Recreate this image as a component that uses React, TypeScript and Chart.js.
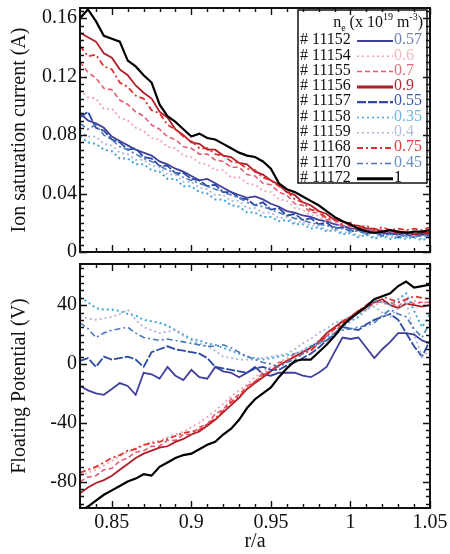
import React, { useEffect, useRef } from "react";
import { Chart, registerables } from "chart.js";

Chart.register(...registerables);

// ---------- data ----------
const R_OVER_A = [
  0.83, 0.835, 0.84, 0.845, 0.85, 0.855, 0.86, 0.865, 0.87, 0.875,
  0.88, 0.885, 0.89, 0.895, 0.9, 0.905, 0.91, 0.915, 0.92, 0.925,
  0.93, 0.935, 0.94, 0.945, 0.95, 0.955, 0.96, 0.965, 0.97, 0.975,
  0.98, 0.985, 0.99, 0.995, 1, 1.005, 1.01, 1.015, 1.02, 1.025,
  1.03, 1.035, 1.04, 1.045, 1.05,
];

const SHOT_LABELS = ["# 11152", "# 11154", "# 11155", "# 11156", "# 11157", "# 11158", "# 11159", "# 11168", "# 11170", "# 11172"];
const DENSITY_LABELS = ["0.57", "0.6", "0.7", "0.9", "0.55", "0.35", "0.4", "0.75", "0.45", "1"];

const X_TICKS = [0.85, 0.9, 0.95, 1, 1.05];
const X_TICK_LABELS = ["0.85", "0.9", "0.95", "1", "1.05"];
const ISAT_TICKS = [0, 0.04, 0.08, 0.12, 0.16];
const ISAT_TICK_LABELS = ["0", "0.04", "0.08", "0.12", "0.16"];
const VF_TICKS = [-80, -40, 0, 40];
const VF_TICK_LABELS = ["-80", "-40", "0", "40"];

// Ion saturation current (A)
const ISAT_11152 = [0.095, 0.090, 0.088, 0.085, 0.079, 0.076, 0.073, 0.070, 0.068, 0.066, 0.062, 0.060, 0.057, 0.055, 0.052, 0.049, 0.050, 0.047, 0.044, 0.041, 0.039, 0.037, 0.038, 0.036, 0.033, 0.031, 0.028, 0.027, 0.025, 0.024, 0.022, 0.021, 0.019, 0.018, 0.016, 0.016, 0.015, 0.014, 0.013, 0.013, 0.012, 0.013, 0.012, 0.012, 0.012];
const ISAT_11154 = [0.111, 0.106, 0.105, 0.098, 0.098, 0.092, 0.090, 0.085, 0.083, 0.078, 0.077, 0.072, 0.071, 0.066, 0.065, 0.061, 0.060, 0.056, 0.056, 0.051, 0.051, 0.047, 0.046, 0.042, 0.041, 0.036, 0.035, 0.030, 0.029, 0.025, 0.025, 0.021, 0.021, 0.017, 0.018, 0.015, 0.016, 0.014, 0.015, 0.013, 0.015, 0.012, 0.014, 0.012, 0.013];
const ISAT_11155 = [0.130, 0.123, 0.119, 0.112, 0.111, 0.104, 0.101, 0.096, 0.093, 0.087, 0.084, 0.079, 0.077, 0.072, 0.071, 0.067, 0.067, 0.063, 0.062, 0.058, 0.058, 0.053, 0.052, 0.047, 0.046, 0.041, 0.039, 0.033, 0.032, 0.027, 0.027, 0.022, 0.022, 0.018, 0.018, 0.015, 0.016, 0.014, 0.015, 0.013, 0.014, 0.013, 0.014, 0.012, 0.013];
const ISAT_11156 = [0.150, 0.147, 0.144, 0.136, 0.133, 0.125, 0.121, 0.114, 0.109, 0.105, 0.096, 0.092, 0.084, 0.080, 0.075, 0.074, 0.070, 0.070, 0.066, 0.065, 0.061, 0.060, 0.055, 0.053, 0.049, 0.046, 0.041, 0.039, 0.034, 0.032, 0.028, 0.026, 0.022, 0.021, 0.018, 0.018, 0.016, 0.016, 0.014, 0.015, 0.013, 0.014, 0.012, 0.013, 0.013];
const ISAT_11157 = [0.092, 0.096, 0.085, 0.083, 0.077, 0.075, 0.070, 0.071, 0.065, 0.064, 0.059, 0.059, 0.054, 0.054, 0.050, 0.049, 0.045, 0.046, 0.041, 0.041, 0.037, 0.036, 0.032, 0.034, 0.029, 0.030, 0.025, 0.026, 0.022, 0.023, 0.019, 0.020, 0.016, 0.017, 0.014, 0.015, 0.012, 0.014, 0.011, 0.013, 0.010, 0.012, 0.010, 0.012, 0.011];
const ISAT_11158 = [0.079, 0.075, 0.074, 0.070, 0.069, 0.064, 0.064, 0.060, 0.060, 0.056, 0.055, 0.050, 0.050, 0.045, 0.045, 0.041, 0.040, 0.036, 0.036, 0.032, 0.031, 0.027, 0.027, 0.024, 0.024, 0.021, 0.022, 0.019, 0.019, 0.016, 0.017, 0.014, 0.015, 0.012, 0.013, 0.010, 0.012, 0.009, 0.011, 0.009, 0.010, 0.009, 0.010, 0.008, 0.010];
const ISAT_11159 = [0.083, 0.079, 0.079, 0.074, 0.073, 0.068, 0.067, 0.063, 0.063, 0.059, 0.058, 0.053, 0.053, 0.048, 0.048, 0.044, 0.043, 0.039, 0.039, 0.035, 0.035, 0.030, 0.030, 0.027, 0.027, 0.023, 0.024, 0.020, 0.021, 0.018, 0.018, 0.015, 0.016, 0.013, 0.014, 0.011, 0.013, 0.010, 0.012, 0.010, 0.011, 0.010, 0.011, 0.009, 0.011];
const ISAT_11168 = [0.141, 0.134, 0.135, 0.127, 0.125, 0.116, 0.113, 0.107, 0.105, 0.097, 0.095, 0.087, 0.084, 0.079, 0.076, 0.071, 0.071, 0.067, 0.066, 0.062, 0.061, 0.057, 0.056, 0.051, 0.049, 0.045, 0.042, 0.036, 0.034, 0.029, 0.028, 0.023, 0.023, 0.019, 0.020, 0.017, 0.018, 0.015, 0.017, 0.015, 0.016, 0.015, 0.016, 0.015, 0.017];
const ISAT_11170 = [0.088, 0.084, 0.087, 0.080, 0.077, 0.072, 0.070, 0.067, 0.064, 0.062, 0.059, 0.056, 0.054, 0.051, 0.049, 0.047, 0.045, 0.043, 0.041, 0.039, 0.037, 0.034, 0.032, 0.031, 0.029, 0.027, 0.025, 0.023, 0.022, 0.020, 0.019, 0.018, 0.017, 0.016, 0.015, 0.014, 0.013, 0.013, 0.012, 0.012, 0.012, 0.011, 0.011, 0.011, 0.011];
const ISAT_11172 = [0.160, 0.166, 0.158, 0.148, 0.146, 0.144, 0.131, 0.127, 0.121, 0.116, 0.101, 0.093, 0.089, 0.084, 0.079, 0.081, 0.078, 0.077, 0.074, 0.071, 0.068, 0.066, 0.065, 0.062, 0.057, 0.047, 0.043, 0.041, 0.038, 0.035, 0.032, 0.028, 0.024, 0.021, 0.019, 0.016, 0.014, 0.013, 0.014, 0.015, 0.014, 0.013, 0.014, 0.014, 0.015];

// Floating potential (V)
const VF_11152 = [-15, -18, -20, -21, -17, -13, -15, -21, -6, -7, -10, -2, -8, -11, -4, -9, -10, -2, -5, -6, -9, -6, -2, -7, -8, -6, -6, -6, -8, -9, -6, -2, 8, 18, 17, 18, 11, 4, 10, 15, 21, 21, 20, 16, 14];
const VF_11154 = [-76, -74, -72, -69, -66, -63, -60, -57, -55, -53, -52, -50, -48, -46, -43, -40, -36, -32, -27, -22, -18, -14, -9, -5, -2, 1, 4, 7, 9, 12, 16, 20, 24, 28, 32, 35, 37, 40, 42, 40, 39, 41, 43, 42, 41];
const VF_11155 = [-80, -77, -76, -72, -71, -66, -64, -60, -59, -56, -56, -52, -52, -48, -48, -43, -41, -34, -31, -24, -21, -15, -12, -6, -5, 1, 2, 7, 7, 11, 13, 19, 21, 28, 30, 36, 37, 42, 42, 42, 39, 44, 41, 42, 42];
const VF_11156 = [-88, -84, -81, -79, -76, -72, -68, -64, -61, -59, -57, -56, -53, -51, -48, -46, -42, -38, -33, -28, -23, -17, -13, -9, -5, -1, 2, 5, 8, 11, 15, 21, 25, 29, 32, 36, 39, 42, 44, 40, 38, 41, 40, 39, 40];
const VF_11157 = [2, 4, -2, 5, 3, 4, 5, 3, -2, 8, 10, 12, 10, 9, 8, 7, 4, -2, -3, -4, -5, -6, -3, -2, -4, -4, -1, 1, 4, 7, 11, 16, 20, 25, 24, 23, 27, 30, 32, 34, 30, 21, 12, 5, 16];
const VF_11158 = [45, 42, 38, 37, 37, 36, 34, 33, 30, 29, 28, 26, 23, 20, 17, 16, 14, 13, 11, 9, 7, 5, 4, 3, 4, 5, 6, 7, 9, 12, 14, 18, 21, 25, 29, 32, 37, 43, 42, 40, 44, 48, 36, 25, 34];
const VF_11159 = [32, 31, 30, 31, 32, 34, 37, 30, 25, 23, 21, 22, 23, 19, 16, 14, 12, 9, 5, 4, 3, 3, 3, 4, 5, 6, 7, 10, 14, 17, 21, 24, 28, 30, 32, 34, 37, 39, 35, 32, 38, 43, 20, 5, 9];
const VF_11168 = [-74, -72, -70, -67, -64, -62, -59, -58, -55, -54, -53, -51, -49, -47, -46, -45, -41, -37, -32, -26, -22, -17, -12, -8, -5, -1, 2, 5, 7, 9, 14, 19, 24, 28, 32, 36, 40, 44, 46, 44, 42, 44, 46, 45, 44];
const VF_11170 = [28, 24, 18, 21, 23, 24, 25, 21, 18, 17, 16, 17, 16, 15, 14, 13, 12, 12, 13, 11, 8, 5, 3, 1, 0, -2, 1, 3, 7, 12, 14, 16, 20, 23, 24, 25, 26, 28, 33, 37, 34, 32, 24, 18, 28];
const VF_11172 = [-100, -97, -93, -89, -86, -83, -80, -78, -75, -76, -70, -67, -64, -62, -61, -58, -55, -53, -48, -44, -38, -30, -24, -20, -16, -9, -3, 2, 3, 3, 8, 13, 19, 26, 31, 35, 39, 44, 46, 48, 53, 56, 52, 53, 54];

const ISAT_SERIES = [ISAT_11152, ISAT_11154, ISAT_11155, ISAT_11156, ISAT_11157, ISAT_11158, ISAT_11159, ISAT_11168, ISAT_11170, ISAT_11172];
const VF_SERIES = [VF_11152, VF_11154, VF_11155, VF_11156, VF_11157, VF_11158, VF_11159, VF_11168, VF_11170, VF_11172];

// ---------- styles ----------
const SERIES_STYLES = [
  { color: "#3f3f9e", text: "#7080b0", dash: [] as number[], width: 1.8, legendWidth: 1.8 },
  { color: "#f2a4b2", text: "#f2b8c0", dash: [2, 3], width: 1.8, legendWidth: 1.5 },
  { color: "#e25c74", text: "#e07080", dash: [5, 3], width: 1.6, legendWidth: 1.5 },
  { color: "#b01e28", text: "#b03030", dash: [] as number[], width: 1.8, legendWidth: 3 },
  { color: "#2a4aa6", text: "#3a5aa8", dash: [9, 2], width: 1.8, legendWidth: 2.2 },
  { color: "#45a6dc", text: "#6ab8dc", dash: [2, 3], width: 2, legendWidth: 1.5 },
  { color: "#a9b6d6", text: "#b4c0d8", dash: [2, 3], width: 1.8, legendWidth: 1.5 },
  { color: "#e2302e", text: "#d84040", dash: [6, 3, 2, 3], width: 1.8, legendWidth: 2 },
  { color: "#4a78b8", text: "#6890c4", dash: [6, 3, 2, 3], width: 1.6, legendWidth: 1.5 },
  { color: "#000000", text: "#000000", dash: [] as number[], width: 2.2, legendWidth: 3 },
];

const FONT_FAMILY = "'Liberation Serif', 'DejaVu Serif', serif";

function makeDatasets(series: number[][]) {
  return SERIES_STYLES.map((st, i) => ({
    label: SHOT_LABELS[i],
    data: R_OVER_A.map((x, j) => ({ x, y: series[i][j] })),
    borderColor: st.color,
    backgroundColor: st.color,
    borderWidth: st.width,
    borderDash: st.dash,
    pointRadius: 0,
    tension: 0,
    fill: false,
    order: i === 9 ? 0 : 10 - i,
  }));
}

// ---------- plugins ----------
function makeFramePlugin(xMinor: number, xMajor: number, yMinor: number, yMajor: number) {
  return {
    id: "frameTicks",
    afterDraw(chart: any) {
      const { ctx, chartArea: a, scales } = chart;
      ctx.save();
      ctx.strokeStyle = "#111";
      ctx.lineWidth = 1.4;
      ctx.setLineDash([]);
      const drawSet = (scale: any, minor: number, major: number, horizontal: boolean) => {
        const start = Math.ceil(scale.min / minor - 1e-6);
        const end = Math.floor(scale.max / minor + 1e-6);
        for (let k = start; k <= end; k++) {
          const v = k * minor;
          const r = v / major;
          const isMajor = Math.abs(r - Math.round(r)) < 1e-6;
          const len = isMajor ? 7 : 4;
          const p = Math.round(scale.getPixelForValue(v)) + 0.5;
          ctx.beginPath();
          if (horizontal) {
            ctx.moveTo(p, a.bottom);
            ctx.lineTo(p, a.bottom - len);
            ctx.moveTo(p, a.top);
            ctx.lineTo(p, a.top + len);
          } else {
            ctx.moveTo(a.left, p);
            ctx.lineTo(a.left + len, p);
            ctx.moveTo(a.right, p);
            ctx.lineTo(a.right - len, p);
          }
          ctx.stroke();
        }
      };
      drawSet(scales.x, xMinor, xMajor, true);
      drawSet(scales.y, yMinor, yMajor, false);
      ctx.lineWidth = 2;
      ctx.strokeRect(a.left, a.top, a.right - a.left, a.bottom - a.top);
      ctx.restore();
    },
  };
}

const shotLegendPlugin = {
  id: "shotLegend",
  afterDraw(chart: any) {
    const { ctx, chartArea: a } = chart;
    const boxR = a.right - 3;
    const boxL = boxR - 129;
    const boxT = a.top + 2;
    const boxB = boxT + 173;
    ctx.save();
    ctx.fillStyle = "#ffffff";
    ctx.fillRect(boxL, boxT, boxR - boxL, boxB - boxT);
    ctx.strokeStyle = "#111";
    ctx.lineWidth = 1.5;
    ctx.strokeRect(boxL, boxT, boxR - boxL, boxB - boxT);

    const big = `16px ${FONT_FAMILY}`;
    const small = `10px ${FONT_FAMILY}`;
    const parts: { t: string; f: string; dy: number }[] = [
      { t: "n", f: big, dy: 0 },
      { t: "e", f: small, dy: 5 },
      { t: " (x 10", f: big, dy: 0 },
      { t: "19", f: small, dy: -6 },
      { t: " m", f: big, dy: 0 },
      { t: "-3", f: small, dy: -6 },
      { t: ")", f: big, dy: 0 },
    ];
    let total = 0;
    for (const p of parts) {
      ctx.font = p.f;
      total += ctx.measureText(p.t).width;
    }
    let tx = boxR - 4 - total;
    const ty = boxT + 13;
    ctx.fillStyle = "#111";
    ctx.textBaseline = "middle";
    ctx.textAlign = "left";
    for (const p of parts) {
      ctx.font = p.f;
      ctx.fillText(p.t, tx, ty + p.dy);
      tx += ctx.measureText(p.t).width;
    }

    const rowY0 = boxT + 30;
    const rowStep = 15.3;
    SHOT_LABELS.forEach((lab, i) => {
      const st = SERIES_STYLES[i];
      const y = rowY0 + i * rowStep;
      ctx.font = big;
      ctx.fillStyle = "#111";
      ctx.fillText(lab, boxL + 2, y);
      ctx.beginPath();
      ctx.strokeStyle = st.color;
      ctx.lineWidth = st.legendWidth;
      ctx.setLineDash(st.dash);
      ctx.moveTo(boxL + 59, y + 1);
      ctx.lineTo(boxL + 95, y + 1);
      ctx.stroke();
      ctx.setLineDash([]);
      ctx.fillStyle = st.text;
      ctx.fillText(DENSITY_LABELS[i], boxL + 96, y);
    });
    ctx.restore();
  },
};

function fixYWidth(scale: any) {
  scale.width = 80;
  scale.paddingTop = 0;
  scale.paddingBottom = 0;
}

function fixXHeight(scale: any) {
  scale.height = 46;
  scale.paddingLeft = 0;
  scale.paddingRight = 0;
}

const tickFont = { family: FONT_FAMILY, size: 20 };

export default function App() {
  const topRef = useRef<HTMLCanvasElement | null>(null);
  const botRef = useRef<HTMLCanvasElement | null>(null);

  useEffect(() => {
    if (!topRef.current || !botRef.current) return;

    const top = new Chart(topRef.current, {
      type: "line",
      data: { datasets: makeDatasets(ISAT_SERIES) as any },
      options: {
        animation: false,
        responsive: false,
        layout: { padding: { top: 8, right: 20, bottom: 12, left: 0 } },
        plugins: {
          legend: { display: false },
          tooltip: { enabled: false },
        },
        scales: {
          x: {
            type: "linear",
            min: 0.83,
            max: 1.05,
            display: false,
          },
          y: {
            type: "linear",
            min: 0,
            max: 0.167,
            grid: { display: false, drawTicks: false },
            border: { display: false },
            afterFit: fixYWidth,
            afterBuildTicks: (s: any) => {
              s.ticks = ISAT_TICKS.map((v) => ({ value: v }));
            },
            ticks: {
              padding: 3,
              color: "#111",
              font: tickFont,
              callback: (v: any) => {
                const idx = ISAT_TICKS.findIndex((t) => Math.abs(t - Number(v)) < 1e-9);
                return idx >= 0 ? ISAT_TICK_LABELS[idx] : "";
              },
            },
            title: {
              display: true,
              text: "Ion saturation current (A)",
              color: "#111",
              font: { family: FONT_FAMILY, size: 20 },
              padding: { top: 8, bottom: 0 },
            },
          },
        },
      },
      plugins: [shotLegendPlugin, makeFramePlugin(0.01, 0.05, 0.005, 0.04)],
    });

    const bottom = new Chart(botRef.current, {
      type: "line",
      data: { datasets: makeDatasets(VF_SERIES) as any },
      options: {
        animation: false,
        responsive: false,
        layout: { padding: { top: 8, right: 20, bottom: 0, left: 0 } },
        plugins: {
          legend: { display: false },
          tooltip: { enabled: false },
        },
        scales: {
          x: {
            type: "linear",
            min: 0.83,
            max: 1.05,
            grid: { display: false, drawTicks: false },
            border: { display: false },
            afterFit: fixXHeight,
            afterBuildTicks: (s: any) => {
              s.ticks = X_TICKS.map((v) => ({ value: v }));
            },
            ticks: {
              padding: 3,
              color: "#111",
              font: tickFont,
              maxRotation: 0,
              autoSkip: false,
              callback: (v: any) => {
                const idx = X_TICKS.findIndex((t) => Math.abs(t - Number(v)) < 1e-9);
                return idx >= 0 ? X_TICK_LABELS[idx] : "";
              },
            },
            title: {
              display: true,
              text: "r/a",
              color: "#111",
              font: { family: FONT_FAMILY, size: 20 },
              padding: { top: 0, bottom: 0 },
            },
          },
          y: {
            type: "linear",
            min: -98,
            max: 68,
            grid: { display: false, drawTicks: false },
            border: { display: false },
            afterFit: fixYWidth,
            afterBuildTicks: (s: any) => {
              s.ticks = VF_TICKS.map((v) => ({ value: v }));
            },
            ticks: {
              padding: 3,
              color: "#111",
              font: tickFont,
              callback: (v: any) => {
                const idx = VF_TICKS.findIndex((t) => Math.abs(t - Number(v)) < 1e-9);
                return idx >= 0 ? VF_TICK_LABELS[idx] : "";
              },
            },
            title: {
              display: true,
              text: "Floating Potential (V)",
              color: "#111",
              font: { family: FONT_FAMILY, size: 20 },
              padding: { top: 8, bottom: 0 },
            },
          },
        },
      },
      plugins: [makeFramePlugin(0.01, 0.05, 5, 40)],
    });

    return () => {
      top.destroy();
      bottom.destroy();
    };
  }, []);

  return (
    <div style={{ position: "absolute", left: 0, top: 0, width: 450, height: 554, background: "#fff" }}>
      <canvas
        ref={topRef}
        width={450}
        height={264}
        style={{ position: "absolute", left: 0, top: 0, width: 450, height: 264 }}
      />
      <canvas
        ref={botRef}
        width={450}
        height={298}
        style={{ position: "absolute", left: 0, top: 256, width: 450, height: 298 }}
      />
    </div>
  );
}
